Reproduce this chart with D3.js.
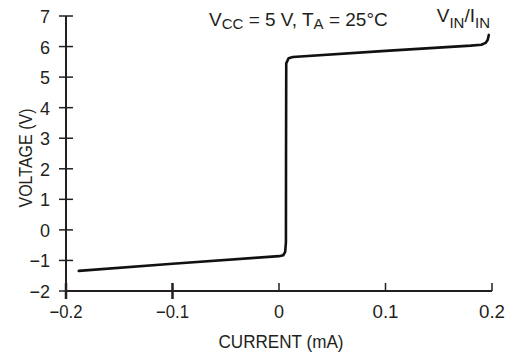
<!DOCTYPE html>
<html>
<head>
<meta charset="utf-8">
<script src="https://cdn.jsdelivr.net/npm/d3@7"></script>
<style>
  body { margin: 0; background: #fff; }
  text { font-family: "Liberation Sans", Arial, sans-serif; fill: #231f20; }
</style>
</head>
<body>
<div id="chart"></div>
<script>
const width = 509;
const height = 358;

// current (mA) vs voltage (V)
const current = [-0.188, -0.1, 0, 0.004, 0.0058, 0.0065, 0.0066, 0.0068, 0.009, 0.013, 0.1, 0.18, 0.19, 0.194, 0.196, 0.197];
const voltage = [-1.34, -1.11, -0.86, -0.83, -0.72, -0.4, 2.5, 5.45, 5.62, 5.66, 5.86, 6.03, 6.06, 6.12, 6.22, 6.38];
const xTicks = [-0.2, -0.1, 0, 0.1, 0.2];
const xTickLabels = ["\u22120.2", "\u22120.1", "0", "0.1", "0.2"];
const yTicks = [-2, -1, 0, 1, 2, 3, 4, 5, 6, 7];

const x = d3.scaleLinear().domain([-0.2, 0.2]).range([66, 492]);
const y = d3.scaleLinear().domain([-2, 7]).range([291, 16]);

const svg = d3.select("#chart").append("svg")
  .attr("width", width)
  .attr("height", height);

const axisColor = "#231f20";

// y axis
svg.append("line")
  .attr("x1", x(-0.2)).attr("x2", x(-0.2))
  .attr("y1", y(-2)).attr("y2", y(7))
  .attr("stroke", axisColor).attr("stroke-width", 2);

svg.append("g").selectAll("line")
  .data(yTicks)
  .enter().append("line")
    .attr("x1", x(-0.2) - 7).attr("x2", x(-0.2) + 7)
    .attr("y1", d => y(d)).attr("y2", d => y(d))
    .attr("stroke", axisColor).attr("stroke-width", 1.5);

svg.append("g").selectAll("text")
  .data(yTicks)
  .enter().append("text")
    .attr("x", 50)
    .attr("y", d => y(d) + 7)
    .attr("text-anchor", "end")
    .attr("font-size", 18)
    .text(d => d < 0 ? "\u2212" + Math.abs(d) : d);

// x axis
svg.append("line")
  .attr("x1", x(-0.2)).attr("x2", x(0.2))
  .attr("y1", y(-2)).attr("y2", y(-2))
  .attr("stroke", axisColor).attr("stroke-width", 2);

svg.append("g").selectAll("line")
  .data(xTicks)
  .enter().append("line")
    .attr("x1", d => x(d)).attr("x2", d => x(d))
    .attr("y1", y(-2) - 8).attr("y2", d => d < 0 ? y(-2) + 8 : y(-2))
    .attr("stroke", axisColor).attr("stroke-width", d => d < 0 ? 2.5 : 1.5);

svg.append("g").selectAll("text")
  .data(xTicks)
  .enter().append("text")
    .attr("x", d => x(d))
    .attr("y", 318)
    .attr("text-anchor", "middle")
    .attr("font-size", 18)
    .attr("textLength", (d, i) => i === 2 ? null : (d < 0 ? 33 : 26))
    .attr("lengthAdjust", "spacingAndGlyphs")
    .text((d, i) => xTickLabels[i]);

// axis titles
svg.append("text")
  .attr("x", 281).attr("y", 348)
  .attr("text-anchor", "middle")
  .attr("font-size", 18)
  .attr("textLength", 125)
  .attr("lengthAdjust", "spacingAndGlyphs")
  .text("CURRENT (mA)");

svg.append("text")
  .attr("transform", "translate(32,158) rotate(-90)")
  .attr("text-anchor", "middle")
  .attr("font-size", 18)
  .attr("textLength", 99)
  .attr("lengthAdjust", "spacingAndGlyphs")
  .text("VOLTAGE (V)");

// condition label
const cond = svg.append("text")
  .attr("x", 209).attr("y", 26)
  .attr("font-size", 19);
cond.append("tspan").text("V");
cond.append("tspan").attr("dy", 3).attr("font-size", 15).text("CC");
cond.append("tspan").attr("dy", -3).text(" = 5 V, T");
cond.append("tspan").attr("dy", 3).attr("font-size", 15).text("A");
cond.append("tspan").attr("dy", -3).text(" = 25\u00b0C");

const lab = svg.append("text")
  .attr("x", 490).attr("y", 22)
  .attr("text-anchor", "end")
  .attr("font-size", 19);
lab.append("tspan").text("V");
lab.append("tspan").attr("dy", 6).attr("font-size", 15).text("IN");
lab.append("tspan").attr("dy", -6).text("/I");
lab.append("tspan").attr("dy", 6).attr("font-size", 15).text("IN");

// curve
const line = d3.line()
  .x((d, i) => x(current[i]))
  .y((d, i) => y(voltage[i]))
  .curve(d3.curveLinear);

svg.append("path")
  .datum(current)
  .attr("fill", "none")
  .attr("stroke", "#111")
  .attr("stroke-width", 2.6)
  .attr("stroke-linejoin", "round")
  .attr("stroke-linecap", "round")
  .attr("d", line);
</script>
</body>
</html>
